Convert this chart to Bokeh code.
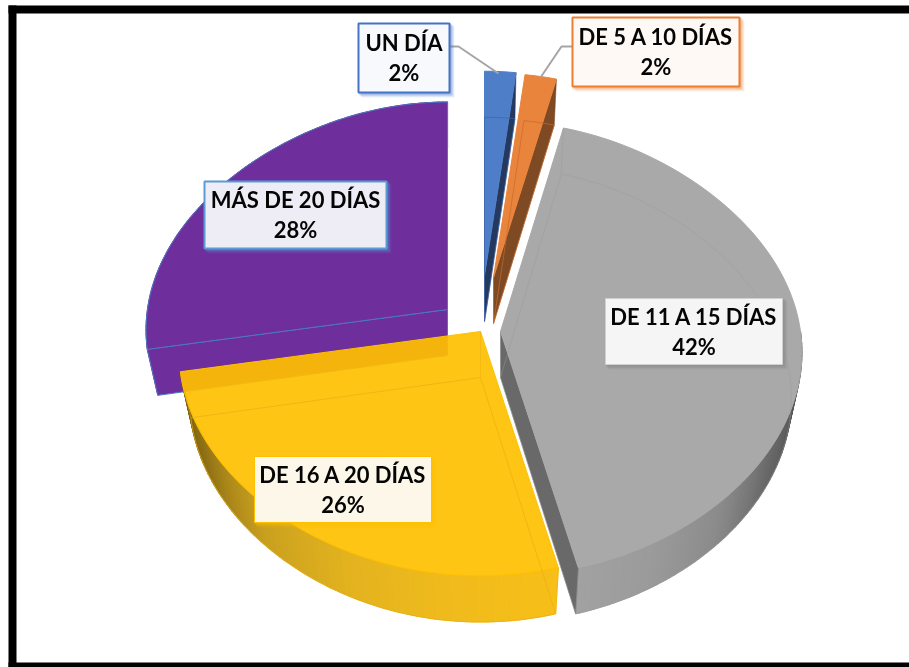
import math
from bokeh.plotting import figure
from bokeh.models import Range1d
from bokeh.core.properties import value
from bokeh.embed import file_html
from bokeh.resources import INLINE

# ---- data ----
categories = ["UN DÍA", "DE 5 A 10 DÍAS", "DE 11 A 15 DÍAS", "DE 16 A 20 DÍAS", "MÁS DE 20 DÍAS"]
percent_labels = [2, 2, 42, 26, 28]
shares = [2.0, 2.0, 42.0, 26.2, 27.8]
face_colors = ["#4F7EC9", "#E9843C", "#A9A9A9", "#FFC000", "#6E2E9C"]
cut_colors = ["#25395E", "#7D4A24", "#696969", "#F2B413", "#6E2E9C"]
border_colors = ["#4472C4", "#ED7D31", "#D0D0D0", "#FFC000", "#5B9BD5"]
box_fills = ["#F8F9FC", "#FEF9F5", "#F5F5F5", "#FCF7E9", "#EEEDF6"]

# ---- pie pose (per-slice exploded centres, in picture pixels) ----
W, H = 909, 667
Rx, Ry, P, B, Q = 300.0, 227.0, 0.103, 0.06, 0.077
DEPTH = 46.0
SHRINK = 0.965
centers = [(484, 275), (493, 277), (500, 331), (480, 331), (447, 309)]
y_scale = [0.975, 0.975, 1.0, 1.0, 0.99]
walls = [None, None,
         [(90, "#606060"), (105, "#555555"), (120, "#6a6a6a"), (135, "#8a8a8a"), (150, "#9a9a9a"), (166, "#a2a2a2")],
         [(165, "#F7BF18"), (185, "#F0BB1C"), (205, "#E3B31F"), (225, "#C9A01F"), (245, "#8F7115"), (261, "#7A5E10")],
         [(259, "#6E2E9C"), (360, "#6E2E9C")]]


def pt(i, deg, depth=False):
    c = centers[i]
    t = math.radians(deg)
    co, si = math.cos(t), math.sin(t)
    k = 1 - P * co - B * co * co
    sx = SHRINK if depth else 1.0
    return (c[0] + Rx * si * k * sx,
            c[1] - y_scale[i] * Ry * co * (1 - Q * co) + (DEPTH if depth else 0))


def arc(i, a0, a1, depth=False):
    n = max(2, int(abs(a1 - a0) / 1.5))
    return [pt(i, a0 + (a1 - a0) * j / n, depth) for j in range(n + 1)]


def mix(stops, deg):
    def h(s):
        return [int(s[j:j + 2], 16) for j in (1, 3, 5)]
    if deg <= stops[0][0]:
        return stops[0][1]
    for (a, ca), (b, cb) in zip(stops, stops[1:]):
        if deg <= b:
            f = (deg - a) / (b - a)
            return "#%02x%02x%02x" % tuple(round(x + (y - x) * f) for x, y in zip(h(ca), h(cb)))
    return stops[-1][1]


p = figure(width=W, height=H, x_range=Range1d(0, W), y_range=Range1d(H, 0),
           output_backend="svg", toolbar_location=None, min_border=0,
           x_axis_type=None, y_axis_type=None, outline_line_color=None,
           background_fill_color="white", border_fill_color="white")
p.grid.visible = False
p.styles = {"position": "fixed", "left": "0px", "top": "0px"}

# picture frame
p.quad(left=[8, 8, 8], right=[W, 16, W], top=[5, 5, 662], bottom=[13, H, H], color="black", line_width=0)

# angles from the values
edges = [0]
for v in shares:
    edges.append(edges[-1] + v * 3.6)


def draw_slice(i):
    a0, a1 = edges[i], edges[i + 1]
    c = centers[i]
    alpha = 0.92 if i == 3 else 1.0
    # outer wall
    if walls[i]:
        lo = max(a0, walls[i][0][0])
        hi = min(a1, walls[i][-1][0])
        step = 1.0
        xs, ys, cols = [], [], []
        d = lo
        while d < hi - 0.01:
            e = min(d + step, hi)
            q = [pt(i, d), pt(i, e), pt(i, e, True), pt(i, d, True)]
            xs.append([u[0] for u in q])
            ys.append([u[1] for u in q])
            cols.append(mix(walls[i], (d + e) / 2))
            d = e
        p.patches(xs, ys, fill_color=cols, line_color=cols, line_width=1.2)
    # visible cut walls
    if i == 4:
        q = [c, pt(i, a0), pt(i, a0, True), (c[0], c[1] + DEPTH)]
        p.patch([u[0] for u in q], [u[1] for u in q], fill_color=cut_colors[i], line_color="#4A78C0", line_width=1)
    if i in (0, 1, 2):
        q = [c, pt(i, a1), pt(i, a1, True), (c[0], c[1] + DEPTH)]
        p.patch([u[0] for u in q], [u[1] for u in q], fill_color=cut_colors[i], line_color=cut_colors[i], line_width=0.5)
    # top face
    q = [c] + arc(i, a0, a1)
    p.patch([u[0] for u in q], [u[1] for u in q], fill_color=face_colors[i], fill_alpha=alpha,
            line_color="#4A78C0" if i == 4 else face_colors[i], line_width=1)
    # faint bottom outline seen through the slice
    q = [(c[0], c[1] + DEPTH)] + arc(i, a0, a1, True) + [(c[0], c[1] + DEPTH)]
    tones = {0: "#3C64A8", 1: "#C96A2A", 2: "#9C9C9C", 3: "#EBAE12", 4: "#4A78C0"}
    if i != 4:
        p.line([u[0] for u in q], [u[1] for u in q], line_color=tones[i],
               line_alpha=0.45 if i == 2 else 0.7, line_width=1)
    # seam lines from the top face to the bottom face
    if i in (2, 3):
        for d in (a0, a1):
            u, w = pt(i, d), pt(i, d, True)
            p.line([u[0], w[0]], [u[1], w[1]], line_color=tones[i], line_alpha=0.5, line_width=1)
        p.line([c[0], c[0]], [c[1], c[1] + DEPTH], line_color=tones[i], line_alpha=0.5, line_width=1)


for i in (4, 3, 2, 0, 1):
    draw_slice(i)

# leader lines
p.line([449, 458, 498], [46, 46, 73], line_color="#A5A5A5", line_width=2)
p.line([572, 561, 540], [46, 46, 77], line_color="#A5A5A5", line_width=2)

# label boxes (left, right, top, bottom) and text centres
boxes = [(358, 449, 23, 92), (572, 739, 17, 86), (605, 782, 298, 364), (254, 431, 456, 522), (204, 386, 181, 248)]
for i, (l, r, t, b) in enumerate(boxes):
    for off, a in ((5, 0.10), (4, 0.14), (3, 0.18), (2, 0.22)):
        p.quad(left=[l + off - 2], right=[r + off], top=[t + off - 2], bottom=[b + off],
               fill_color=border_colors[i] if i != 2 else "#808080", fill_alpha=a, line_width=0, line_color=None)
    p.quad(left=[l], right=[r], top=[t], bottom=[b], fill_color=box_fills[i],
           line_color=border_colors[i], line_width=2 if i in (0, 1, 4) else 1)
    xm = (l + r) / 2
    ym = (t + b) / 2
    p.text([xm, xm], [ym - 15.5, ym + 14.5], text=[categories[i], f"{percent_labels[i]}%"],
           text_font=value("Lato"), text_font_style="bold", text_font_size="22px",
           text_align="center", text_baseline="middle", text_color="#050505")

open("out.html", "w").write(file_html(p, INLINE))
